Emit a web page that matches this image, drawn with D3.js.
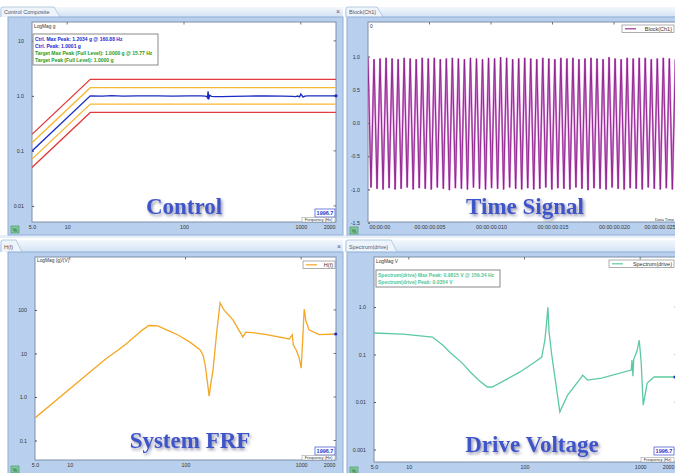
<!DOCTYPE html>
<html><head><meta charset="utf-8">
<script src="https://cdn.jsdelivr.net/npm/d3@7"></script>
<style>
html,body{margin:0;padding:0;background:#fff;overflow:hidden}
svg{display:block;font-family:"Liberation Sans",Arial,sans-serif}
</style></head><body>
<svg id="c" width="675" height="473"></svg>
<script>
// ---------- DATA ----------
const freqTicks = [5, 10, 100, 1000, 2000];
const freqTickLabels = ["5.0", "10", "100", "1000", "2000"];

// Control composite
const targetFreq = [5, 15.77, 2000];
const targetVal = [0.1, 1.0, 1.0];
const alarmHighVal = [0.141, 1.41, 1.41];
const alarmLowVal = [0.0708, 0.708, 0.708];
const abortHighVal = [0.2, 2.0, 2.0];
const abortLowVal = [0.05, 0.5, 0.5];
const ctrlFreq = [5, 15.77, 20, 24, 30, 40, 60, 80, 110, 140, 152, 157, 159, 160.88, 162.5, 166, 172, 185, 210, 260, 350, 500, 700, 850, 900, 940, 975, 1000, 1020, 1045, 1080, 1150, 1400, 2000];
const ctrlVal  = [0.1, 1.0, 0.99, 1.01, 0.99, 1.0, 1.0, 0.99, 1.0, 1.0, 0.99, 0.97, 0.93, 1.2034, 0.87, 1.02, 0.98, 0.97, 0.97, 0.98, 0.99, 1.0, 0.99, 0.98, 0.97, 0.99, 0.96, 1.08, 1.02, 0.95, 0.99, 1.0, 1.0, 1.0];
const ctrlYTicks = [10, 1, 0.1, 0.01];
const ctrlYLabels = ["10", "1.0", "0.1", "0.01"];
const ctrlInfo = [
  {t: "Ctrl. Max Peak: 1.2034 g @ 160.88 Hz", c: "#1e2ad0"},
  {t: "Ctrl. Peak: 1.0001 g", c: "#1e2ad0"},
  {t: "Target Max Peak (Full Level): 1.0000 g @ 15.77 Hz", c: "#1f9a1f"},
  {t: "Target Peak (Full Level): 1.0000 g", c: "#1f9a1f"}
];

// Time signal
const timeTicks = [0, 0.005, 0.010, 0.015, 0.020, 0.025];
const timeTickLabels = ["00:00:00", "00:00:00.005", "00:00:00.010", "00:00:00.015", "00:00:00.020", "00:00:00.025"];
const timeYTicks = [1, 0.5, 0, -0.5, -1, -1.5];
const timeYLabels = ["1.0", "0.5", "0.0", "-0.5", "-1.0", "-1.5"];
const sampleInterval = 0.000245;
const blockSamples = [0.98,-0.97,0.96,-0.99,0.97,-1.0,0.98,-0.98,0.97,-1.0,0.96,-0.99,0.98,-0.97,0.97,-1.0,0.96,-0.98,0.98,-0.99,
  0.97,-1.0,0.98,-0.97,0.96,-0.99,0.97,-1.01,0.98,-0.98,0.97,-0.99,0.96,-1.0,0.98,-0.97,0.97,-0.99,0.96,-1.0,
  0.98,-0.98,0.97,-0.99,0.99,-1.0,0.98,-0.97,0.96,-0.99,0.97,-1.0,0.98,-0.98,0.97,-1.0,0.96,-0.99,0.98,-0.97,
  0.97,-1.0,0.96,-0.98,0.98,-0.99,0.97,-1.0,0.98,-0.97,0.96,-0.99,0.97,-1.01,0.98,-0.98,0.97,-0.99,0.96,-1.0,
  0.99,-0.97,0.97,-0.99,0.96,-1.0,0.98,-0.98,0.97,-0.99,0.98,-1.0,0.98,-0.97,0.96,-0.99,0.97,-1.0,0.98,-0.98,
  0.97,-1.0,0.96,-0.99,0.98];

// System FRF
const frfFreq = [5, 19.9, 22.8, 26.2, 31, 36, 42, 48.3, 57.7, 70, 85.5, 110, 134, 142, 148, 154, 160, 165, 173, 186, 199, 215, 257, 313, 332, 381, 502, 789, 837, 855, 906, 960, 1000, 1030, 1062, 1100, 1170, 1425, 1990];
const frfVal  = [0.33, 7.1, 9.2, 12, 17, 24, 34, 44, 43, 34, 27, 18, 12, 9, 5.4, 2.4, 1.05, 1.9, 4.2, 30, 145, 100, 59, 24, 31, 30, 27, 21.5, 27, 15.7, 12, 8, 4.6, 20, 105, 55, 35, 27, 28];
const frfYTicks = [100, 10, 1, 0.1];
const frfYLabels = ["100", "10", "1.0", "0.1"];

// Drive voltage spectrum
const driveFreq = [5, 8.9, 16, 19.6, 23, 29, 34, 40, 47.7, 52.6, 68, 91.5, 123, 141, 150, 155, 159.34, 163, 172, 202, 236, 312, 318, 351, 463, 837, 850, 865, 880, 940, 982, 1020, 1062, 1150, 1320, 2000];
const driveVal  = [0.284, 0.27, 0.233, 0.158, 0.108, 0.066, 0.043, 0.029, 0.0207, 0.0207, 0.029, 0.043, 0.0695, 0.0886, 0.2, 0.45, 0.9815, 0.3, 0.098, 0.0062, 0.014, 0.0336, 0.037, 0.029, 0.032, 0.047, 0.077, 0.035, 0.08, 0.12, 0.2, 0.069, 0.0086, 0.025, 0.0336, 0.0336];
const driveYTicks = [1, 0.1, 0.01, 0.001];
const driveYLabels = ["1.0", "0.1", "0.01", "0.001"];
const driveInfo = [
  {t: "Spectrum(drive) Max Peak: 0.9815 V @ 159.34 Hz", c: "#4fc79a"},
  {t: "Spectrum(drive) Peak: 0.0354 V", c: "#4fc79a"}
];

// ---------- DRAWING ----------
const svg = d3.select("#c");
const defs = svg.append("defs");
const f = defs.append("filter").attr("id", "shadow").attr("x", "-20%").attr("y", "-30%").attr("width", "140%").attr("height", "170%");
f.append("feDropShadow").attr("dx", 1.5).attr("dy", 2).attr("stdDeviation", 1.6).attr("flood-color", "#6b6b8a").attr("flood-opacity", 0.75);
const tg = defs.append("linearGradient").attr("id", "tabg").attr("x1", 0).attr("x2", 0).attr("y1", 0).attr("y2", 1);
tg.append("stop").attr("offset", 0).attr("stop-color", "#f4f8fd");
tg.append("stop").attr("offset", 1).attr("stop-color", "#d3e2f4");

const PANEL_BG = "#b8d0ee";
const PANEL_EDGE = "#8eaed6";

function tabStrip(x, y, w, h, label, tabW, closeX) {
  svg.append("rect").attr("x", x).attr("y", y).attr("width", w).attr("height", h).attr("fill", "url(#tabg)");
  svg.append("path")
    .attr("d", `M${x + 1},${y + h} L${x + 1},${y + 2} Q${x + 1},${y} ${x + 3},${y} L${x + tabW - 6},${y} L${x + tabW},${y + h}`)
    .attr("fill", "#eef4fb").attr("stroke", "#a8c0dc").attr("stroke-width", 0.8);
  svg.append("text").attr("x", x + 4).attr("y", y + h - 3).attr("font-size", 5.5).attr("fill", "#556").text(label);
  if (closeX != null) svg.append("text").attr("x", closeX).attr("y", y + h - 3).attr("font-size", 7).attr("fill", "#557").attr("text-anchor", "middle").text("×");
}

function panel(p) {
  svg.append("rect").attr("x", p.px).attr("y", p.py).attr("width", p.pw).attr("height", p.ph)
    .attr("fill", PANEL_BG).attr("stroke", PANEL_EDGE).attr("stroke-width", 1);
  svg.append("rect").attr("x", p.x).attr("y", p.y).attr("width", p.w).attr("height", p.h)
    .attr("fill", "#fff").attr("stroke", "#7d8ea4").attr("stroke-width", 1);
  svg.append("rect").attr("x", p.px + 3).attr("y", p.iconY).attr("width", 8).attr("height", 7)
    .attr("fill", "#7fc99a").attr("stroke", "#3f8f5f").attr("stroke-width", 0.6);
  svg.append("text").attr("x", p.px + 7).attr("y", p.iconY + 5.5).attr("font-size", 5).attr("text-anchor", "middle").attr("fill", "#1d5a35").text("%");
}

function axes(p, xs, ys, xt, xl, yt, yl, xRightEdge) {
  const g = svg.append("g").attr("font-size", 5.3).attr("fill", "#333");
  const ax = d3.axisBottom(xs).tickValues(xt).tickFormat((d, i) => xl[i]).tickSize(0).tickPadding(3);
  const axg = g.append("g").attr("transform", `translate(0,${p.y + p.h})`).call(ax);
  axg.select(".domain").remove();
  axg.selectAll("text").attr("font-size", 5.3).attr("fill", "#333");
  // last label right-aligned to plot's visible edge
  const n = xt.length;
  axg.selectAll(".tick").filter((d, i) => i === n - 1).select("text")
    .attr("text-anchor", "end").attr("x", xRightEdge - xs(xt[n - 1]));
  const ay = d3.axisLeft(ys).tickValues(yt).tickFormat((d, i) => yl[i]).tickSize(2).tickPadding(6);
  const ayg = g.append("g").attr("transform", `translate(${p.x},0)`).call(ay);
  ayg.select(".domain").remove();
  ayg.selectAll("text").attr("font-size", 5.3).attr("fill", "#333");
  ayg.selectAll("line").attr("stroke", "#555").attr("x2", 2);
  xt.forEach(v => {
    const X = xs(v);
    if (X > p.x + 3 && X < p.x + p.w - 3) g.append("line").attr("x1", X).attr("x2", X).attr("y1", p.y).attr("y2", p.y + 2.5).attr("stroke", "#555").attr("stroke-width", 0.8);
  });
  yt.forEach(v => {
    g.append("line").attr("x1", p.x + p.w).attr("x2", p.x + p.w - 2.5).attr("y1", ys(v)).attr("y2", ys(v)).attr("stroke", "#555").attr("stroke-width", 0.8);
  });
  return axg;
}

function bigLabel(x, y, txt) {
  svg.append("text").attr("x", x).attr("y", y).attr("text-anchor", "middle")
    .attr("font-family", "'Liberation Serif','DejaVu Serif',serif").attr("font-weight", "bold")
    .attr("font-size", 23).attr("fill", "#3e55c9").attr("filter", "url(#shadow)").text(txt);
}

function cursorBox(p, unitText) {
  const bx = p.x + p.w - 21, by = p.y + p.h - 13;
  svg.append("rect").attr("x", bx).attr("y", by).attr("width", 20).attr("height", 8).attr("fill", "#fff").attr("stroke", "#5260d8").attr("stroke-width", 0.8);
  svg.append("text").attr("x", bx + 10).attr("y", by + 6.2).attr("text-anchor", "middle").attr("font-size", 5.5).attr("font-weight", "bold").attr("fill", "#2a35c8").text("1996.7");
  svg.append("rect").attr("x", p.x + p.w - 34).attr("y", p.y + p.h - 4.5).attr("width", 33).attr("height", 4.5).attr("fill", "#fff").attr("stroke", "#777").attr("stroke-width", 0.4);
  svg.append("text").attr("x", p.x + p.w - 17.5).attr("y", p.y + p.h - 1).attr("text-anchor", "middle").attr("font-size", 4).attr("fill", "#333").text(unitText);
}

function infoBox(x, y, w, lines) {
  svg.append("rect").attr("x", x).attr("y", y).attr("width", w).attr("height", lines.length * 7 + 3)
    .attr("fill", "#fff").attr("stroke", "#8a8a8a").attr("stroke-width", 1);
  lines.forEach((l, i) => {
    svg.append("text").attr("x", x + 2).attr("y", y + 7 + i * 7).attr("font-size", 5).attr("font-weight", "bold").attr("fill", l.c).text(l.t);
  });
}

function legend(x, y, w, color, label) {
  svg.append("rect").attr("x", x).attr("y", y).attr("width", w).attr("height", 7.5).attr("fill", "#fff").attr("stroke", "#777").attr("stroke-width", 0.6);
  svg.append("line").attr("x1", x + 3).attr("x2", x + 14).attr("y1", y + 3.8).attr("y2", y + 3.8).attr("stroke", color).attr("stroke-width", 1.2);
  svg.append("text").attr("x", x + w - 2).attr("y", y + 5.8).attr("text-anchor", "end").attr("font-size", 5.5).attr("fill", "#333").text(label);
}

function clipFor(name, p) {
  defs.append("clipPath").attr("id", name).append("rect").attr("x", p.x).attr("y", p.y).attr("width", p.w).attr("height", p.h);
  return `url(#${name})`;
}

// background strips
tabStrip(0, 7, 343, 10, "Control Composite", 60, 338);
tabStrip(345, 7, 330, 10, "Block(Ch1)", 38, null);
svg.append("rect").attr("x", 0).attr("y", 235).attr("width", 675).attr("height", 3).attr("fill", "#e6eef8");
tabStrip(0, 240, 343, 12, "H(f)", 22, 339);
tabStrip(345, 240, 330, 12, "Spectrum(drive)", 52, null);

// ---- Panel 1: Control ----
const P1 = {px: 8, py: 17, pw: 335, ph: 218, x: 32, y: 22, w: 304, h: 200, iconY: 226};
panel(P1);
const x1 = d3.scaleLog().domain([5, 2000]).range([P1.x, P1.x + P1.w]);
const y1 = d3.scaleLog().domain([0.0051, 22]).range([P1.y + P1.h, P1.y]);
axes(P1, x1, y1, freqTicks, freqTickLabels, ctrlYTicks, ctrlYLabels, P1.x + P1.w - 1);
const g1 = svg.append("g").attr("clip-path", clipFor("cp1", P1));
const line1 = (vals, fr) => d3.line().x((d, i) => x1(fr[i])).y(d => y1(d))(vals);
[[abortHighVal, "#e23b3b"], [alarmHighVal, "#f6b733"], [alarmLowVal, "#f6b733"], [abortLowVal, "#e23b3b"]].forEach(([v, c]) => {
  g1.append("path").attr("d", line1(v, targetFreq)).attr("fill", "none").attr("stroke", c).attr("stroke-width", 1.3);
});
g1.append("path").attr("d", line1(ctrlVal, ctrlFreq)).attr("fill", "none").attr("stroke", "#1b2cc4").attr("stroke-width", 1.4);
svg.append("circle").attr("cx", x1(2000)).attr("cy", y1(1)).attr("r", 1.6).attr("fill", "#1b2cc4");
svg.append("text").attr("x", P1.x + 2).attr("y", P1.y + 6).attr("font-size", 4.8).attr("fill", "#333").text("LogMag g");
infoBox(33, 34, 125, ctrlInfo);
bigLabel(184, 214, "Control");
cursorBox(P1, "Frequency (Hz)");

// ---- Panel 2: Time ----
const P2 = {px: 347, py: 17, pw: 330, ph: 218, x: 368, y: 22, w: 310, h: 200, iconY: 227};
panel(P2);
const x2 = d3.scaleLinear().domain([0, 0.025]).range([P2.x, P2.x + 307.5]);
const y2 = d3.scaleLinear().domain([-1.49, 1.52]).range([P2.y + P2.h, P2.y]);
const ax2 = axes(P2, x2, y2, timeTicks, timeTickLabels, timeYTicks, timeYLabels, 675);
ax2.selectAll(".tick").filter((d, i) => i === 0).select("text").attr("text-anchor", "start").attr("x", 1);
const g2 = svg.append("g").attr("clip-path", clipFor("cp2", P2));
const tline = d3.line().x((d, i) => x2(i * sampleInterval)).y(d => y2(d));
g2.append("path").attr("d", tline(blockSamples)).attr("fill", "none").attr("stroke", "#d68ad6").attr("stroke-width", 2.0);
g2.append("path").attr("d", tline(blockSamples)).attr("fill", "none").attr("stroke", "#8a1f8a").attr("stroke-width", 0.9);
svg.append("text").attr("x", P2.x + 2).attr("y", P2.y + 6).attr("font-size", 4.8).attr("fill", "#333").text("0");
legend(622, 25, 52, "#9c2f9c", "Block(Ch1)");
bigLabel(525, 214, "Time Signal");
svg.append("text").attr("x", 674).attr("y", 221).attr("text-anchor", "end").attr("font-size", 4.2).attr("fill", "#333").text("Data Time");

// ---- Panel 3: FRF ----
const P3 = {px: 8, py: 252, pw: 335, ph: 225, x: 35, y: 257, w: 301, h: 203, iconY: 466};
panel(P3);
const x3 = d3.scaleLog().domain([5, 2000]).range([P3.x, P3.x + P3.w]);
const y3 = d3.scaleLog().domain([0.0356, 1650]).range([P3.y + P3.h, P3.y]);
axes(P3, x3, y3, freqTicks, freqTickLabels, frfYTicks, frfYLabels, P3.x + P3.w - 1);
const g3 = svg.append("g").attr("clip-path", clipFor("cp3", P3));
g3.append("path").attr("d", d3.line().x((d, i) => x3(frfFreq[i])).y(d => y3(d))(frfVal))
  .attr("fill", "none").attr("stroke", "#f5a623").attr("stroke-width", 1.3);
svg.append("circle").attr("cx", x3(1990)).attr("cy", y3(28)).attr("r", 1.6).attr("fill", "#1b2cc4");
svg.append("text").attr("x", P3.x + 2).attr("y", P3.y + 5).attr("font-size", 4.8).attr("fill", "#333").text("LogMag (g)/(V)");
legend(303, 261, 32, "#f5a623", "H(f)");
bigLabel(190, 448, "System FRF");
cursorBox(P3, "Frequency (Hz)");

// ---- Panel 4: Drive ----
const P4 = {px: 347, py: 252, pw: 330, ph: 225, x: 374, y: 257, w: 303, h: 205, iconY: 467};
panel(P4);
const x4 = d3.scaleLog().domain([5, 2000]).range([P4.x, P4.x + 301]);
const y4 = d3.scaleLog().domain([0.000546, 11.3]).range([P4.y + P4.h, P4.y]);
axes(P4, x4, y4, freqTicks, freqTickLabels, driveYTicks, driveYLabels, 674);
const g4 = svg.append("g").attr("clip-path", clipFor("cp4", P4));
g4.append("path").attr("d", d3.line().x((d, i) => x4(driveFreq[i])).y(d => y4(d))(driveVal))
  .attr("fill", "none").attr("stroke", "#5ccaa0").attr("stroke-width", 1.3);
svg.append("circle").attr("cx", x4(2000)).attr("cy", y4(0.0336)).attr("r", 1.6).attr("fill", "#1b2cc4");
svg.append("text").attr("x", P4.x + 2).attr("y", P4.y + 6).attr("font-size", 4.8).attr("fill", "#333").text("LogMag V");
infoBox(376, 270, 124, driveInfo);
legend(609, 260, 65, "#5ccaa0", "Spectrum(drive)");
bigLabel(532, 452, "Drive Voltage");
{
  const bx = 654, by = 447;
  svg.append("rect").attr("x", bx).attr("y", by).attr("width", 20).attr("height", 8).attr("fill", "#fff").attr("stroke", "#5260d8").attr("stroke-width", 0.8);
  svg.append("text").attr("x", bx + 10).attr("y", by + 6.2).attr("text-anchor", "middle").attr("font-size", 5.5).attr("font-weight", "bold").attr("fill", "#2a35c8").text("1996.7");
  svg.append("rect").attr("x", 641).attr("y", 457.5).attr("width", 33).attr("height", 4.5).attr("fill", "#fff").attr("stroke", "#777").attr("stroke-width", 0.4);
  svg.append("text").attr("x", 657.5).attr("y", 461).attr("text-anchor", "middle").attr("font-size", 4).attr("fill", "#333").text("Frequency (Hz)");
}
</script></body></html>
